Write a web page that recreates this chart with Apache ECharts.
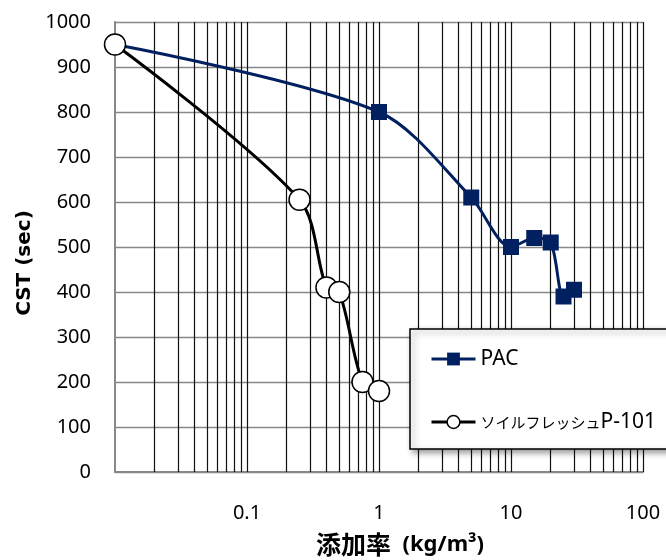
<!DOCTYPE html>
<html><head><meta charset="utf-8">
<script src="https://cdn.jsdelivr.net/npm/echarts@6/dist/echarts.min.js"></script>
<style>html,body{margin:0;padding:0;background:#fff}#c{width:666px;height:560px}</style>
</head><body><div id="c"></div>
<script>
// ---- data ----
const seriesNames = ['PAC', 'ソイルフレッシュP-101'];
const pacDose = [0.01, 1, 5, 10, 15, 20, 25, 30];
const pacCST  = [950, 800, 610, 500, 520, 510, 390, 405];
const soilDose = [0.01, 0.25, 0.4, 0.5, 0.75, 1];
const soilCST  = [950, 605, 410, 400, 200, 180];
// vertical log gridline values
const majorX = [0.1, 1, 10, 100];
const minorX = [0.02, 0.03, 0.04, 0.05, 0.06, 0.07, 0.08, 0.09,
                0.2, 0.3, 0.4, 0.5, 0.6, 0.7, 0.8, 0.9,
                2, 3, 4, 5, 6, 7, 8, 9,
                20, 30, 40, 50, 60, 70, 80, 90];
const xName = ['添加率', '(kg/m³)'];
const yName = 'CST (sec)';

const chart = echarts.init(document.getElementById('c'));
const gridLines = minorX.concat(majorX).map(v => ({ xAxis: v }));

chart.setOption({
  animation: false,
  backgroundColor: '#fff',
  grid: { left: 115, right: 23, top: 22, bottom: 88, containLabel: false, outerBoundsMode: 'none' },
  xAxis: {
    type: 'log', logBase: 10, min: 0.01, max: 100,
    axisLine: { show: true, lineStyle: { color: '#888', width: 2 } },
    axisTick: { show: false },
    splitLine: { show: false },
    axisLabel: {
      showMinLabel: false, margin: 31, fontSize: 20, color: '#000',
      fontFamily: 'Noto Sans',
      formatter: v => String(+(+v).toPrecision(6))
    },
    name: '{c|' + xName[0] + '}{l|  ' + xName[1] + '}',
    nameLocation: 'middle', nameGap: 60,
    nameTextStyle: {
      padding: [0, 0, 0, 42],
      rich: {
        c: { fontFamily: 'Noto Sans CJK JP', fontWeight: 'bold', fontSize: 25, color: '#000' },
        l: { fontFamily: 'Noto Sans', fontWeight: 'bold', fontSize: 22, color: '#000' }
      }
    }
  },
  yAxis: {
    type: 'value', min: 0, max: 1000, interval: 100,
    axisLine: { show: true, lineStyle: { color: '#888', width: 2 } },
    axisTick: { show: false },
    splitLine: { show: true, lineStyle: { color: '#888', width: 1.3 } },
    axisLabel: { margin: 24, fontSize: 20, color: '#000', fontFamily: 'Noto Sans',
      formatter: v => String(v) },
    name: yName, nameLocation: 'middle', nameGap: 57,
    nameTextStyle: {
      fontFamily: 'DejaVu Sans', fontWeight: 'bold', fontSize: 20, color: '#000',
      padding: [0, 32, 0, 0]
    }
  },
  legend: {
    data: seriesNames, orient: 'vertical', left: 410, top: 329,
    padding: [19, 40, 16, 20], itemGap: 41, itemWidth: 44, itemHeight: 16,
    backgroundColor: '#fff', borderColor: '#000', borderWidth: 1.5,
    shadowBlur: 6, shadowColor: 'rgba(0,0,0,0.4)', shadowOffsetX: 3, shadowOffsetY: 3,
    selectedMode: false,
    lineStyle: { width: 3 },
    itemStyle: { borderWidth: 1.5 },
    formatter: function (name) {
      if (name === seriesNames[1]) return '{k|ソイルフレッシュ}{l|P-101}';
      return '{l|' + name + '}';
    },
    textStyle: {
      color: '#000', lineHeight: 22,
      rich: {
        k: { fontFamily: 'Noto Sans CJK JP', fontSize: 15, lineHeight: 22, color: '#000' },
        l: { fontFamily: 'Noto Sans', fontSize: 21, lineHeight: 22, color: '#000' }
      }
    }
  },
  series: [
    {
      name: seriesNames[0], type: 'line', z: 3,
      data: pacDose.map((x, i) => [x, pacCST[i]]),
      symbol: 'rect', symbolSize: 16, smooth: 0.3,
      lineStyle: { color: '#002060', width: 3 },
      itemStyle: { color: '#002060' },
      emphasis: { disabled: true },
      markLine: {
        silent: true, z: 1, symbol: ['none', 'none'],
        label: { show: false },
        lineStyle: { color: '#111', width: 1.2, type: 'solid' },
        emphasis: { disabled: true },
        data: gridLines
      }
    },
    {
      name: seriesNames[1], type: 'line', z: 4,
      data: soilDose.map((x, i) => [x, soilCST[i]]),
      symbol: 'circle', symbolSize: 21, smooth: 0.3,
      lineStyle: { color: '#000', width: 3 },
      itemStyle: { color: '#fff', borderColor: '#000', borderWidth: 1.5 },
      emphasis: { disabled: true }
    }
  ]
});
</script>
</body></html>
